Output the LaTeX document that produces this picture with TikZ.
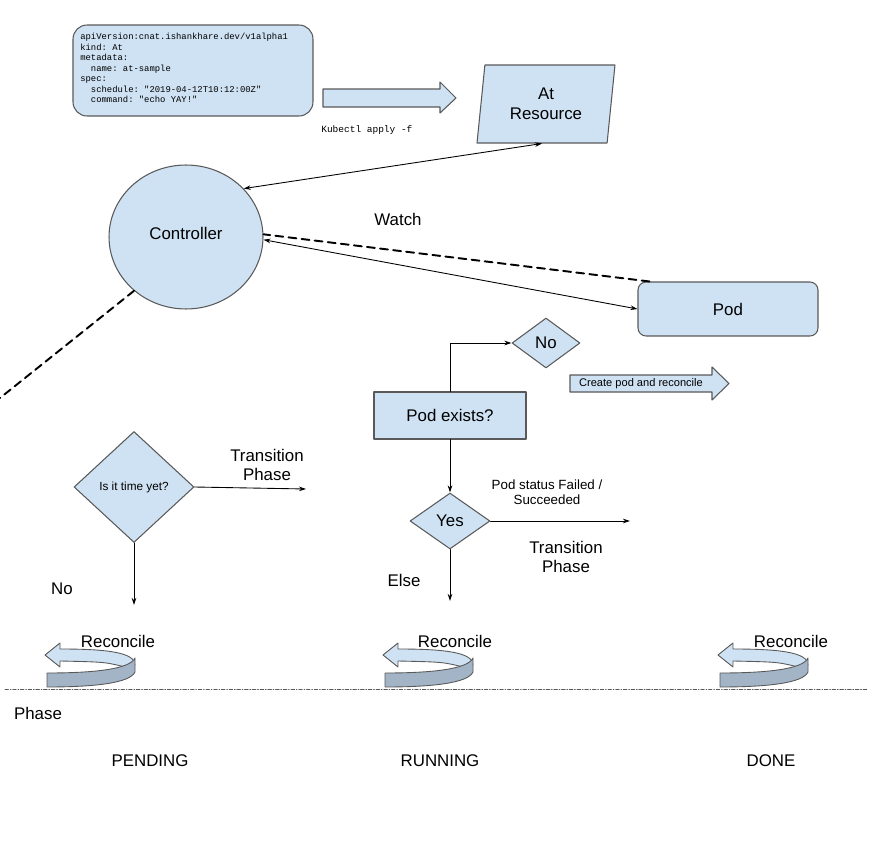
\documentclass[tikz,border=0pt]{standalone}
\usepackage{fontspec}
\setmainfont{Liberation Sans}
\setmonofont{Liberation Mono}
\usetikzlibrary{shapes.geometric,arrows.meta,calc}
\definecolor{boxblue}{HTML}{CFE2F3}
\definecolor{ribbondark}{HTML}{A2B4C6}
\definecolor{edgegray}{HTML}{595959}
\tikzset{
  shapebox/.style={draw=edgegray, fill=boxblue, line width=0.6pt, inner sep=0pt},
  bigtext/.style={font=\fontsize{9.6}{11.3}\selectfont, align=center},
  smalltext/.style={font=\fontsize{7.6}{8.6}\selectfont, align=center},
  link/.style={line width=0.5pt},
  watchline/.style={line width=1.1pt, dash pattern=on 4.5pt off 3pt},
  reconcile/.pic={
    % back band with the head
    \fill[boxblue, draw=edgegray, line width=0.5pt] (0,0) -- (15,-12) -- (15,-6)
      .. controls (60,-6) and (90,-3) .. (90,10) -- (80,12)
      .. controls (60,7) .. (15,6) -- (15,12) -- cycle;
    % front band
    \fill[ribbondark, draw=edgegray, line width=0.5pt] (2,18)
      .. controls (50,18) and (85,14) .. (90,3) -- (90,17)
      .. controls (85,28) and (50,32) .. (2,32) -- cycle;
  }
}
\begin{document}
\begin{tikzpicture}[x=0.02cm, y=-0.02cm, >={Stealth[length=4pt,width=2.6pt]}, line cap=round, line join=round]
  \useasboundingbox (0,0) rectangle (880,862);

  % manifest and apply
  \node[shapebox, rounded corners=0.28cm, minimum width=4.8cm, minimum height=1.82cm] (manifest) at (193,70.5) {};
  \node[anchor=north west, inner sep=0pt, align=left, font=\ttfamily\fontsize{5.05}{5.95}\selectfont] (yaml) at (80,33)
    {apiVersion:cnat.ishankhare.dev/v1alpha1\\
     kind: At\\
     metadata:\\
     \phantom{xx}name: at-sample\\
     spec:\\
     \phantom{xx}schedule: "2019-04-12T10:12:00Z"\\
     \phantom{xx}command: "echo YAY!"};
  \draw[shapebox] (323,89) -- (440,89) -- (440,82) -- (456,98) -- (440,113) -- (440,107) -- (323,107) -- cycle;
  \node[anchor=west, inner sep=0pt, font=\ttfamily\fontsize{5.4}{6.4}\selectfont] (kubectl) at (321,130) {Kubectl apply -f};
  \node[shapebox, trapezium, trapezium left angle=76, trapezium right angle=104,
    trapezium stretches body, minimum width=2.76cm, minimum height=1.56cm, bigtext] (res) at (546,104) {At\\Resource};

  % controller and pod
  \node[shapebox, ellipse, minimum width=3.08cm, minimum height=2.88cm, bigtext] (ctrl) at (186,237) {\raisebox{4pt}{Controller}};
  \node[shapebox, rounded corners=0.16cm, minimum width=3.6cm, minimum height=1.08cm, bigtext] (pod) at (728,309) {Pod};
  \node[bigtext] (watch) at (398,219) {Watch};
  \coordinate (offl) at (0,398);
  \draw[link, <->] (ctrl.40) -- (res.bottom side);
  \draw[link, <->] (ctrl.-2) -- (pod.west);
  \draw[watchline] ($(pod.north west)+(12,0)$) -- (ctrl.2);
  \draw[watchline] (ctrl.226) -- (offl);

  % pending
  \node[shapebox, diamond, minimum width=2.4cm, minimum height=2.22cm, font=\fontsize{6.7}{8}\selectfont] (time) at (134,487) {Is it time yet?};
  \coordinate (timeend) at (306,489);
  \coordinate (timeno) at (134,605);
  \draw[link, ->] (time.east) -- (timeend);
  \draw[link, ->] (time.south) -- (timeno);
  \node[bigtext] (trans1) at (267,465) {Transition\\Phase};
  \node[bigtext] (no1) at (62,589) {No};

  % running
  \node[shapebox, minimum width=3.04cm, minimum height=0.94cm, bigtext] (exists) at (450,415.5) {Pod exists?};
  \node[shapebox, diamond, minimum width=1.36cm, minimum height=1.0cm, bigtext] (no2) at (546,343) {No};
  \node[shapebox, diamond, minimum width=1.6cm, minimum height=1.12cm, bigtext] (yes) at (450,521) {Yes};
  \draw[shapebox] (570,375) -- (712,375) -- (712,367) -- (729,383.5) -- (712,400) -- (712,392) -- (570,392) -- cycle;
  \node[font=\fontsize{6.3}{7.5}\selectfont] (create) at (641,383.5) {Create pod and reconcile};
  \coordinate (yesend) at (630,521);
  \coordinate (elseend) at (450,601);
  \draw[link, ->] (exists.north) |- (no2.west);
  \draw[link, ->] (exists.south) -- (yes.north);
  \draw[link, ->] (yes.east) -- (yesend);
  \draw[link, ->] (yes.south) -- (elseend);
  \node[smalltext] (status) at (547,492) {Pod status Failed /\\Succeeded};
  \node[bigtext] (trans2) at (566,557) {Transition\\Phase};
  \node[bigtext] (else) at (404,580) {Else};

  % reconcile loops
  \pic at (45,655) {reconcile};
  \pic at (383,655) {reconcile};
  \pic at (718,655) {reconcile};
  \node[bigtext] (rec1) at (118,641) {Reconcile};
  \node[bigtext] (rec2) at (455,641) {Reconcile};
  \node[bigtext] (rec3) at (791,641) {Reconcile};

  % phases
  \draw[line width=0.5pt, edgegray, dash pattern=on 2pt off 1pt on 0.4pt off 1pt] (5,689) -- (868,689);
  \node[bigtext] (phase) at (38,713) {Phase};
  \node[bigtext] (pending) at (150,761) {PENDING};
  \node[bigtext] (running) at (440,761) {RUNNING};
  \node[bigtext] (done) at (771,761) {DONE};
\end{tikzpicture}
\end{document}
